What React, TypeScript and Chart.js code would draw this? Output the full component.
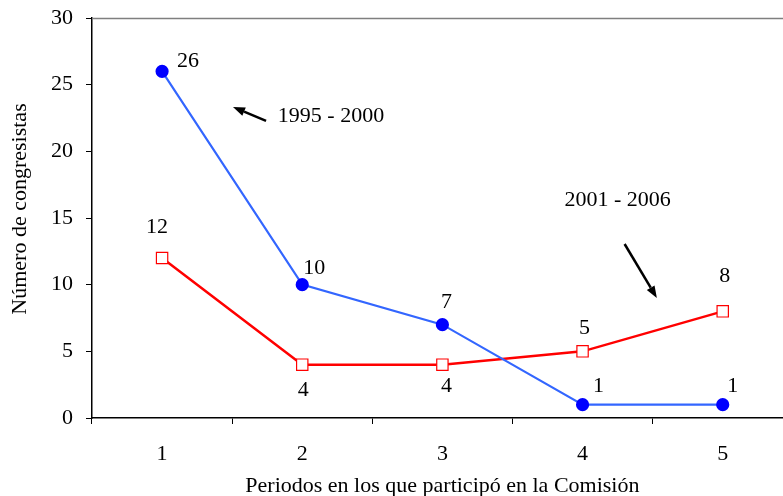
import React, { useEffect, useRef } from "react";
import { Chart, registerables } from "chart.js";

Chart.register(...registerables);

const categories = ["1", "2", "3", "4", "5"];
const series1995 = [26, 10, 7, 1, 1];
const series2001 = [12, 4, 4, 5, 8];
const yTicks = [0, 5, 10, 15, 20, 25, 30];
const yTitle = "Número de congresistas";
const xTitle = "Periodos en los que participó en la Comisión";

const FONT = "'Liberation Serif', 'Times New Roman', serif";
const FS = 22;

// label offsets (pixels) relative to each point
const labelOffsets1995 = [[26, -10], [12, -16], [4, -22], [16, -18], [10, -18]];
const labelOffsets2001 = [[-5, -31], [1, 26], [4, 22], [2, -23], [2, -35]];

// annotations in data coordinates (x = category index, y = value)
const annotations = [
  { text: "1995 - 2000", tx: 1.205, ty: 22.65, from: [0.742, 22.28], to: [0.506, 23.33] },
  { text: "2001 - 2006", tx: 3.25, ty: 16.35, from: [3.3, 13.05], to: [3.53, 9.0] },
];

const overlayPlugin = {
  id: "overlay",
  beforeDatasetsDraw(chart: any) {
    const { ctx, chartArea } = chart;
    ctx.save();
    ctx.strokeStyle = "#7f7f7f";
    ctx.lineWidth = 1.5;
    ctx.beginPath();
    ctx.moveTo(chartArea.left, chartArea.top + 0.5);
    ctx.lineTo(chartArea.right, chartArea.top + 0.5);
    ctx.stroke();
    // y axis title
    ctx.font = `${FS}px ${FONT}`;
    ctx.fillStyle = "#000";
    ctx.textAlign = "center";
    ctx.textBaseline = "middle";
    ctx.translate(20, (chartArea.top + chartArea.bottom) / 2 - 9);
    ctx.rotate(-Math.PI / 2);
    ctx.fillText(yTitle, 0, 0);
    ctx.restore();
  },
  afterDatasetsDraw(chart: any) {
    const { ctx } = chart;
    const xs = chart.scales.x;
    const ys = chart.scales.y;
    ctx.save();
    ctx.font = `${FS}px ${FONT}`;
    ctx.fillStyle = "#000";
    ctx.textAlign = "center";
    ctx.textBaseline = "middle";
    const offs = [labelOffsets1995, labelOffsets2001];
    chart.data.datasets.forEach((ds: any, di: number) => {
      const meta = chart.getDatasetMeta(di);
      meta.data.forEach((pt: any, i: number) => {
        const [dx, dy] = offs[di][i];
        ctx.fillText(String(ds.data[i]), pt.x + dx, pt.y + dy);
      });
    });
    annotations.forEach((a) => {
      ctx.fillText(a.text, xs.getPixelForValue(a.tx), ys.getPixelForValue(a.ty));
      const x1 = xs.getPixelForValue(a.from[0]);
      const y1 = ys.getPixelForValue(a.from[1]);
      const x2 = xs.getPixelForValue(a.to[0]);
      const y2 = ys.getPixelForValue(a.to[1]);
      const ang = Math.atan2(y2 - y1, x2 - x1);
      const hl = 12;
      const hw = 4.5;
      const bx = x2 - hl * Math.cos(ang);
      const by = y2 - hl * Math.sin(ang);
      ctx.strokeStyle = "#000";
      ctx.lineWidth = 2.5;
      ctx.beginPath();
      ctx.moveTo(x1, y1);
      ctx.lineTo(bx, by);
      ctx.stroke();
      ctx.beginPath();
      ctx.moveTo(x2, y2);
      ctx.lineTo(bx + hw * Math.sin(ang), by - hw * Math.cos(ang));
      ctx.lineTo(bx - hw * Math.sin(ang), by + hw * Math.cos(ang));
      ctx.closePath();
      ctx.fill();
    });
    ctx.restore();
  },
};

export default function App() {
  const ref = useRef<HTMLCanvasElement>(null);
  useEffect(() => {
    document.body.style.margin = "0";
    const chart = new Chart(ref.current!, {
      type: "line",
      data: {
        labels: categories,
        datasets: [
          {
            label: "1995 - 2000",
            data: series1995,
            borderColor: "#3366ff",
            borderWidth: 2.2,
            pointBackgroundColor: "#0000ff",
            pointBorderColor: "#0000ff",
            pointRadius: 5.5,
            pointStyle: "circle",
            tension: 0,
          },
          {
            label: "2001 - 2006",
            data: series2001,
            borderColor: "#ff0000",
            borderWidth: 2.5,
            pointBackgroundColor: "#ffffff",
            pointBorderColor: "#ff0000",
            pointBorderWidth: 1.2,
            pointRadius: 8,
            pointStyle: "rect",
            tension: 0,
          },
        ],
      },
      options: {
        responsive: false,
        animation: false,
        layout: { padding: { top: 18, left: 0, right: 0, bottom: 0 } },
        plugins: { legend: { display: false }, tooltip: { enabled: false } },
        scales: {
          x: {
            offset: true,
            grid: { offset: true, drawOnChartArea: false, tickLength: 6, color: "#000", tickWidth: 1 },
            border: { color: "#000", width: 1.5 },
            ticks: { color: "#000", font: { family: FONT, size: FS }, padding: 17 },
            title: {
              display: true,
              text: xTitle,
              color: "#000",
              font: { family: FONT, size: FS },
              padding: { top: 0, bottom: -3 },
            },
            afterFit(scale: any) {
              scale.height = 78;
              scale.paddingLeft = 0;
              scale.paddingRight = 0;
            },
          },
          y: {
            min: 0,
            max: 30,
            afterBuildTicks(scale: any) {
              scale.ticks = yTicks.map((v) => ({ value: v }));
            },
            grid: { drawOnChartArea: false, tickLength: 6, color: "#000" },
            border: { color: "#000", width: 1.5 },
            ticks: { color: "#000", font: { family: FONT, size: FS }, padding: 13 },
            afterFit(scale: any) {
              scale.width = 92;
              scale.paddingTop = 0;
              scale.paddingBottom = 0;
            },
          },
        },
      },
      plugins: [overlayPlugin],
    });
    return () => chart.destroy();
  }, []);
  return (
    <div style={{ width: 783, height: 496, overflow: "hidden", position: "relative" }}>
      <canvas ref={ref} width={802} height={496} style={{ display: "block" }} />
    </div>
  );
}
